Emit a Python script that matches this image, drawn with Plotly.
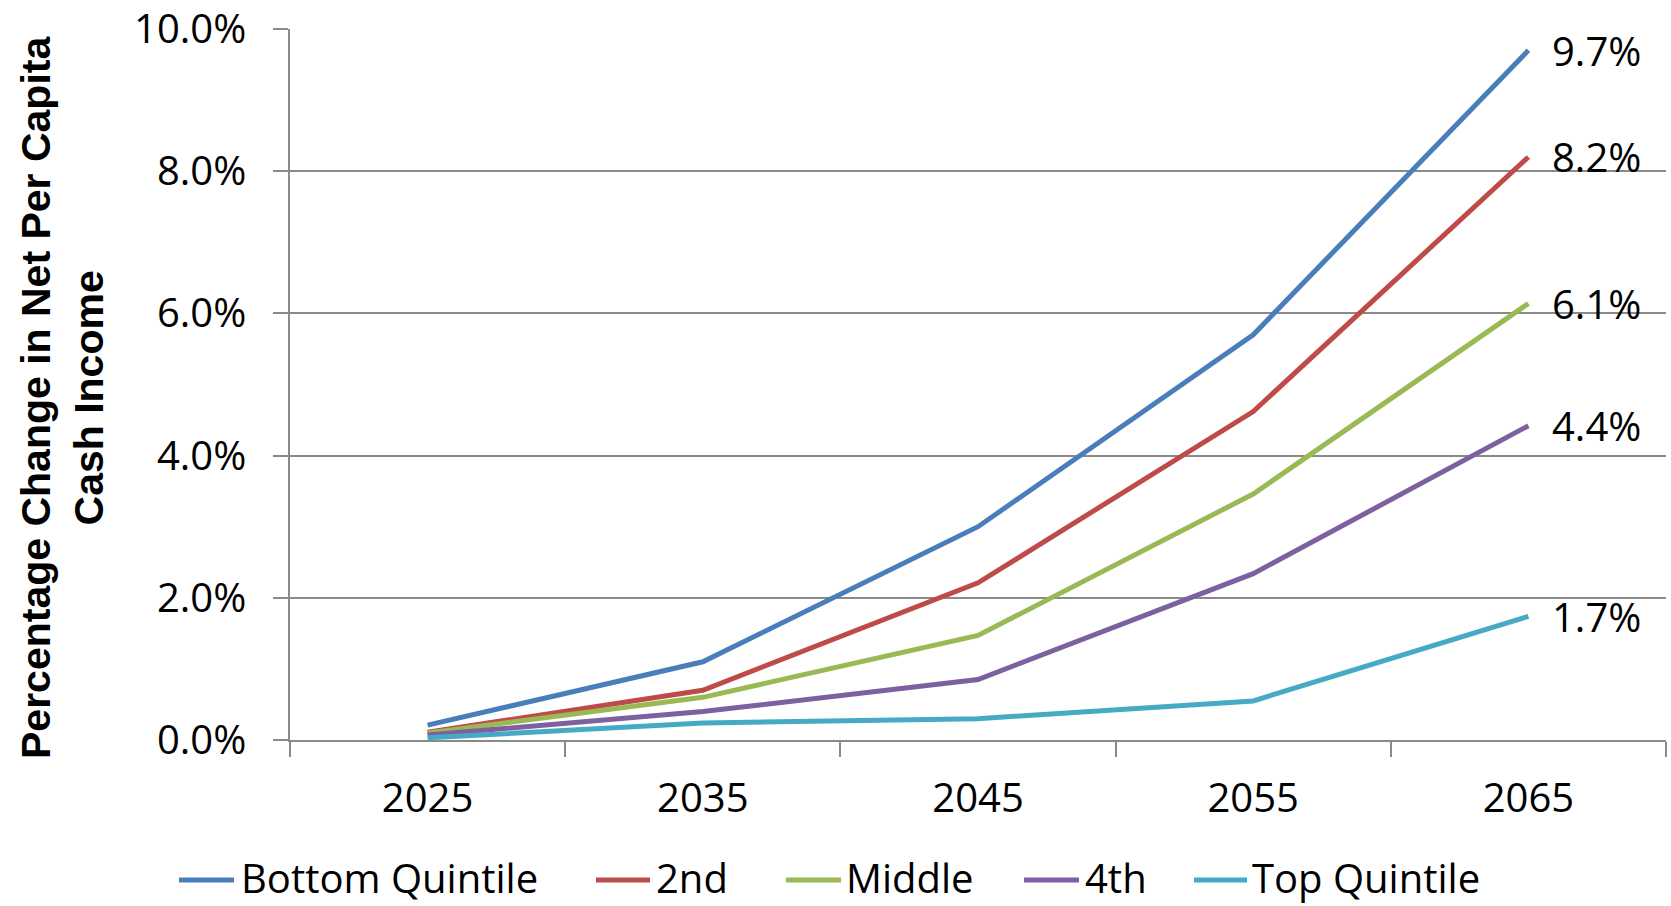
import plotly.graph_objects as go

# ---- data -------------------------------------------------------------
years = ["2025", "2035", "2045", "2055", "2065"]
series_names = ["Bottom Quintile", "2nd", "Middle", "4th", "Top Quintile"]
bottom_q = [0.21, 1.10, 3.00, 5.70, 9.70]
second_q = [0.11, 0.70, 2.21, 4.62, 8.20]
middle_q = [0.10, 0.60, 1.47, 3.46, 6.14]
fourth_q = [0.07, 0.40, 0.85, 2.34, 4.42]
top_q = [0.03, 0.24, 0.30, 0.55, 1.74]
y_ticks = [0, 2, 4, 6, 8, 10]
y_tick_labels = [f"{v:.1f}%" for v in y_ticks]

series_values = [bottom_q, second_q, middle_q, fourth_q, top_q]
colors = ["#4A7EBB", "#BE4B48", "#98B954", "#7D60A0", "#46AAC5"]

# ---- layout geometry (pixels) ----------------------------------------
W, H = 1671, 906
ML, MR, MT, MB = 290, 5, 29, 166
PW, PH = W - ML - MR, H - MT - MB


def px_x(px):
    return (px - ML) / PW


def px_y(py):
    return (MT + PH - py) / PH


TICK_FONT = dict(family="Open Sans, Noto Sans, sans-serif", size=40, color="#000000")
GRID = "#8A8A8A"

fig = go.Figure()
last_idx = len(years) - 1
for name, vals, col in zip(series_names, series_values, colors):
    fig.add_trace(go.Scatter(
        x=years, y=vals, name=name, mode="lines",
        line=dict(color=col, width=5),
        showlegend=False,
    ))
    # value label at the end of each line (category index of the last year)
    fig.add_annotation(
        x=last_idx, y=vals[-1], xref="x", yref="y",
        text=f"{vals[-1]:.1f}%", showarrow=False,
        xanchor="left", yanchor="middle", xshift=22,
        font=TICK_FONT,
    )

# legend drawn as swatches + labels below the axis
legend_items = [
    (179, 234, 240),
    (596, 650, 655),
    (786, 841, 845),
    (1024, 1079, 1084),
    (1194, 1247, 1251),
]
legend_y = 877
for (x0, x1, xt), name, col in zip(legend_items, series_names, colors):
    fig.add_shape(
        type="line", xref="paper", yref="paper",
        x0=px_x(x0), x1=px_x(x1), y0=px_y(legend_y + 3), y1=px_y(legend_y + 3),
        line=dict(color=col, width=5),
    )
    fig.add_annotation(
        x=px_x(xt), y=px_y(legend_y), xref="paper", yref="paper",
        text=name, showarrow=False, xanchor="left", yanchor="middle",
        borderpad=0, font=TICK_FONT,
    )

# rotated axis title
fig.add_annotation(
    x=px_x(62), y=px_y(398), xref="paper", yref="paper",
    text="<b>Percentage Change in Net Per Capita<br>Cash Income</b>",
    textangle=-90, showarrow=False, xanchor="center", yanchor="middle",
    font=dict(family="Liberation Sans, Arial, sans-serif", size=41, color="#000000"),
)

fig.update_layout(
    width=W, height=H,
    margin=dict(l=ML, r=MR, t=MT, b=MB, autoexpand=False),
    paper_bgcolor="#FFFFFF", plot_bgcolor="#FFFFFF",
    showlegend=False,
)
fig.update_xaxes(
    type="category", range=[-0.5, 4.5], automargin=False,
    showgrid=False, showline=True, linecolor=GRID, linewidth=1.5,
    ticks="outside", tickson="boundaries", ticklen=15, tickcolor=GRID, tickwidth=1.5,
    tickfont=TICK_FONT, ticklabelstandoff=22,
)
fig.update_yaxes(
    range=[0, 10], tickmode="array", tickvals=y_ticks, ticktext=y_tick_labels,
    automargin=False,
    showgrid=True, gridcolor=GRID, gridwidth=1.5,
    showline=True, linecolor=GRID, linewidth=1.5, zeroline=False,
    ticks="outside", ticklen=15, tickcolor=GRID, tickwidth=1.5,
    tickfont=TICK_FONT, ticklabelstandoff=19,
)

fig.write_html("out.html")
